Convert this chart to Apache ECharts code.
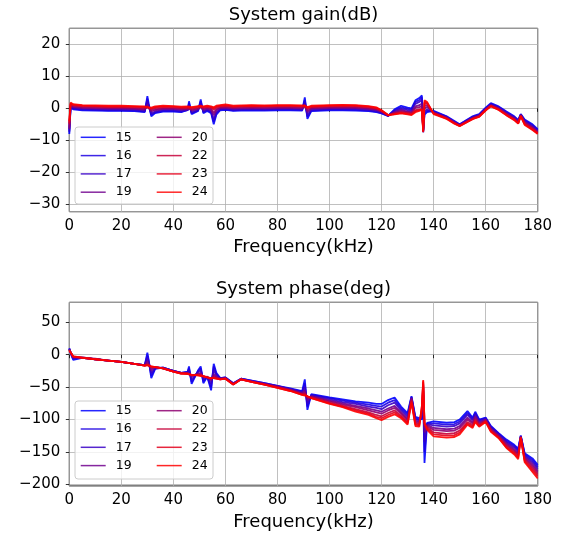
<!DOCTYPE html>
<html>
<head>
<meta charset="utf-8">
<script src="https://cdn.jsdelivr.net/npm/echarts@6/dist/echarts.min.js"></script>
<style>
  html, body { margin: 0; padding: 0; background: #fff; }
  #chart { width: 562px; height: 540px; }
</style>
</head>
<body>
<div id="chart"></div>
<script>
// data
const labels = ['15', '16', '17', '19', '20', '22', '23', '24']
const xTicks = [0, 20, 40, 60, 80, 100, 120, 140, 160, 180]
const freqs = [0, 0.5, 1.5, 5, 10, 15, 20, 25, 29, 30,
  30.5, 31.5, 33, 36, 40, 43, 45.5, 46, 47, 49.5,
  50.5, 51.5, 53, 54.5, 55.5, 56.5, 58, 60, 63, 66,
  70, 75, 80, 85, 89.5, 90.5, 91.5, 93, 100, 105,
  110, 115, 118, 120, 122.5, 125, 127.5, 130, 131.5, 133,
  134.5, 135.5, 136, 136.5, 137.5, 140, 145, 148, 150, 153,
  155, 156, 157.5, 160, 162, 165, 168, 171, 172.5, 173.5,
  175, 178, 180]

const gain15 = [-8, 0.2, -0.3, -0.6, -0.7, -0.8, -0.8, -0.9, -1.2, 3.8,
  1.5, -2.5, -1.5, -1.0, -1.0, -1.2, -0.5, 2.2, -1.8, -0.8,
  2.8, -1.5, -0.8, -1.5, -5.0, -2.0, -0.6, -0.5, -0.8, -0.7,
  -0.6, -0.7, -0.6, -0.6, -0.7, 3.4, -3.3, -0.9, -0.6, -0.6,
  -0.7, -0.9, -1.2, -1.6, -2.4, -0.3, 0.8, 0.2, 0.0, 2.5,
  3.2, 4.0, -7.5, -2.0, -1.2, -0.8, -2.5, -4.0, -5.0, -3.5,
  -2.5, -2.2, -1.8, 0.2, 1.6, 0.6, -1.0, -2.5, -3.6, -1.8,
  -3.5, -5.0, -6.5]
const gain16 = [-7.5, 0.4, -0.1, -0.4, -0.5, -0.6, -0.6, -0.7, -1.0, 3.0,
  1.0, -2.0, -1.3, -0.8, -0.8, -1.0, -0.6, 1.6, -1.5, -0.7,
  2.2, -1.2, -0.6, -1.2, -4.2, -1.6, -0.4, -0.3, -0.6, -0.5,
  -0.4, -0.5, -0.4, -0.4, -0.5, 2.6, -2.6, -0.7, -0.4, -0.4,
  -0.5, -0.7, -1.0, -1.5, -2.4, -0.6, 0.3, -0.2, -0.4, 2.0,
  2.6, 3.4, -7.2, -1.5, -0.8, -1.0, -2.6, -4.2, -5.1, -3.6,
  -2.7, -2.4, -2.0, 0, 1.4, 0.4, -1.2, -2.7, -3.8, -1.9,
  -3.8, -5.3, -6.8]
const gain17 = [-7, 0.5, 0.1, -0.2, -0.3, -0.3, -0.4, -0.4, -0.7, 2.2,
  0.5, -1.6, -1.0, -0.5, -0.5, -0.7, -0.5, 1.0, -1.2, -0.5,
  1.5, -0.9, -0.4, -0.9, -3.4, -1.2, -0.2, -0.1, -0.4, -0.3,
  -0.2, -0.3, -0.2, -0.2, -0.3, 1.8, -2.0, -0.4, -0.2, -0.1,
  -0.2, -0.5, -0.8, -1.3, -2.3, -0.9, -0.2, -0.6, -0.8, 1.4,
  2.0, 2.6, -7.0, -1.0, -0.4, -1.2, -2.8, -4.3, -5.2, -3.8,
  -2.8, -2.5, -2.1, -0.1, 1.2, 0.2, -1.4, -2.9, -4.0, -2.0,
  -4.0, -5.6, -7.0]
const gain19 = [-6.5, 0.8, 0.4, 0.1, 0, -0.1, -0.1, -0.2, -0.4, 1.2,
  0.2, -1.0, -0.6, -0.2, -0.2, -0.4, -0.3, 0.4, -0.7, -0.2,
  0.8, -0.5, -0.1, -0.5, -2.2, -0.6, 0.1, 0.2, -0.1, 0,
  0.1, 0, 0.1, 0.1, 0, 1.0, -1.2, -0.1, 0.1, 0.2,
  0.1, -0.2, -0.5, -1.1, -2.3, -1.2, -0.6, -1.0, -1.2, 0.6,
  1.0, 1.4, -6.8, 0, 0.4, -1.3, -2.9, -4.4, -5.3, -3.9,
  -3.0, -2.7, -2.3, -0.3, 1.0, 0, -1.6, -3.1, -4.2, -2.1,
  -4.3, -5.9, -7.3]
const gain20 = [-6, 1.0, 0.6, 0.3, 0.2, 0.1, 0.1, 0, -0.2, 0.6,
  0, -0.6, -0.3, 0, 0, -0.2, -0.1, 0.1, -0.4, 0,
  0.4, -0.2, 0.1, -0.2, -1.4, -0.3, 0.3, 0.4, 0.1, 0.2,
  0.3, 0.2, 0.3, 0.3, 0.2, 0.6, -0.7, 0.1, 0.3, 0.4,
  0.3, 0, -0.3, -1.0, -2.2, -1.4, -0.9, -1.2, -1.4, 0.1,
  0.4, 0.6, -6.8, 0.8, 0.9, -1.4, -3.0, -4.5, -5.3, -4.0,
  -3.1, -2.8, -2.4, -0.4, 0.9, -0.1, -1.8, -3.3, -4.4, -2.2,
  -4.5, -6.1, -7.5]
const gain22 = [-5, 1.3, 0.9, 0.6, 0.5, 0.4, 0.4, 0.3, 0.2, 0.3,
  0, -0.2, 0.1, 0.4, 0.3, 0.1, 0.2, 0.2, -0.1, 0.3,
  0.4, 0.2, 0.4, 0.2, -0.5, 0.2, 0.6, 0.7, 0.4, 0.5,
  0.6, 0.5, 0.6, 0.6, 0.5, 0.5, -0.1, 0.4, 0.6, 0.7,
  0.6, 0.3, -0.1, -0.8, -2.2, -1.6, -1.2, -1.5, -1.7, -0.6,
  -0.3, -0.2, -7.0, 1.6, 1.4, -1.5, -3.1, -4.6, -5.4, -4.1,
  -3.2, -2.9, -2.5, -0.5, 0.8, -0.3, -2.0, -3.5, -4.6, -2.3,
  -4.8, -6.4, -7.7]
const gain23 = [-4.5, 1.5, 1.1, 0.8, 0.7, 0.6, 0.6, 0.5, 0.4, 0.3,
  0.1, 0, 0.4, 0.6, 0.5, 0.3, 0.4, 0.4, 0.2, 0.5,
  0.6, 0.4, 0.6, 0.4, 0, 0.5, 0.8, 0.9, 0.6, 0.7,
  0.8, 0.7, 0.8, 0.8, 0.7, 0.7, 0.2, 0.6, 0.8, 0.9,
  0.8, 0.5, 0.1, -0.7, -2.1, -1.8, -1.4, -1.7, -1.9, -0.9,
  -0.6, -0.4, -7.2, 2.0, 1.7, -1.6, -3.2, -4.7, -5.5, -4.2,
  -3.3, -3.0, -2.6, -0.6, 0.7, -0.4, -2.1, -3.6, -4.7, -2.4,
  -5.0, -6.6, -7.8]
const gain24 = [-4, 1.8, 1.3, 1.0, 0.9, 0.8, 0.8, 0.7, 0.6, 0.4,
  0.2, 0.2, 0.6, 0.8, 0.7, 0.5, 0.6, 0.6, 0.4, 0.7,
  0.8, 0.6, 0.8, 0.6, 0.3, 0.8, 1.0, 1.2, 0.8, 0.9,
  1.0, 0.9, 1.0, 1.0, 0.9, 0.9, 0.4, 0.8, 1.0, 1.1,
  1.0, 0.7, 0.3, -0.6, -2.1, -1.9, -1.6, -1.9, -2.1, -1.2,
  -0.8, -0.5, -7.5, 2.5, 2.0, -1.8, -3.3, -4.8, -5.6, -4.3,
  -3.4, -3.1, -2.7, -0.7, 0.6, -0.5, -2.2, -3.7, -4.8, -2.5,
  -5.2, -6.8, -8.0]

const phase15 = [10, 2, -8, -5, -7, -9, -11, -14, -16, 3,
  -8, -36, -22, -20, -25, -28, -26, -18, -45, -24,
  -18, -44, -34, -55, -14, -28, -36, -35, -44, -37,
  -40, -44, -48, -52, -56, -38, -85, -61, -66, -69,
  -72, -74, -76, -76, -70, -66, -80, -90, -64, -96,
  -98, -100, -70, -167, -105, -103, -105, -104, -100, -87,
  -97, -88, -100, -97, -110, -121, -131, -139, -145, -125,
  -152, -160, -170]
const phase16 = [9, 3, -6, -5, -7, -9, -11, -14, -16, -1,
  -10, -32, -21, -20, -25, -28, -27, -21, -42, -25,
  -21, -41, -34, -50, -18, -30, -36, -35, -44, -37,
  -40, -44, -48, -53, -57, -44, -80, -62, -67, -71,
  -74, -77, -79, -80, -74, -70, -83, -93, -65, -98,
  -100, -98, -62, -150, -106, -106, -108, -107, -103, -90,
  -99, -90, -101, -98, -111, -122, -133, -141, -147, -125,
  -154, -163, -173]
const phase17 = [9, 4, -5, -4, -7, -9, -11, -14, -16, -5,
  -12, -28, -20, -20, -25, -28, -28, -24, -38, -27,
  -24, -38, -34, -45, -24, -32, -37, -36, -45, -37,
  -41, -45, -49, -53, -58, -50, -75, -63, -69, -73,
  -76, -80, -82, -84, -78, -74, -86, -96, -66, -100,
  -101, -95, -56, -135, -107, -109, -111, -110, -106, -93,
  -101, -92, -103, -99, -112, -123, -135, -143, -149, -126,
  -156, -166, -176]
const phase19 = [8, 4, -4, -5, -6, -9, -11, -14, -16, -10,
  -14, -24, -19, -21, -25, -28, -28, -26, -34, -29,
  -28, -35, -34, -40, -30, -34, -37, -36, -45, -38,
  -41, -45, -49, -54, -59, -55, -70, -64, -71, -75,
  -79, -83, -86, -88, -83, -79, -89, -99, -67, -102,
  -103, -92, -50, -120, -108, -113, -115, -114, -110, -97,
  -104, -95, -105, -100, -114, -125, -137, -146, -152, -126,
  -158, -169, -179]
const phase20 = [8, 5, -4, -5, -7, -9, -11, -14, -17, -13,
  -15, -21, -19, -21, -26, -28, -29, -27, -32, -30,
  -30, -34, -35, -38, -33, -35, -37, -36, -45, -38,
  -41, -45, -50, -55, -60, -58, -67, -65, -72, -77,
  -81, -86, -89, -91, -86, -82, -91, -101, -68, -104,
  -105, -88, -46, -112, -110, -116, -118, -117, -113, -100,
  -106, -97, -107, -101, -115, -126, -139, -148, -154, -127,
  -160, -172, -182]
const phase22 = [7, 5, -3, -4, -7, -9, -11, -14, -17, -15,
  -16, -19, -19, -21, -26, -29, -29, -28, -31, -31,
  -31, -33, -35, -37, -35, -36, -38, -37, -46, -38,
  -42, -46, -50, -55, -61, -60, -65, -66, -74, -79,
  -84, -89, -93, -95, -90, -86, -94, -104, -70, -106,
  -107, -84, -43, -108, -112, -120, -122, -121, -117, -104,
  -109, -100, -109, -102, -117, -127, -141, -150, -157, -127,
  -162, -175, -185]
const phase23 = [7, 6, -3, -5, -7, -9, -11, -14, -17, -16,
  -17, -18, -19, -21, -26, -29, -29, -29, -31, -32,
  -32, -33, -35, -36, -36, -37, -38, -37, -46, -38,
  -42, -46, -51, -56, -62, -62, -64, -67, -75, -80,
  -86, -91, -96, -98, -93, -89, -96, -106, -72, -108,
  -109, -80, -41, -106, -114, -123, -125, -124, -120, -106,
  -111, -102, -110, -103, -118, -128, -143, -152, -159, -128,
  -164, -178, -188]
const phase24 = [6, 6, -2, -5, -7, -9, -11, -14, -17, -16,
  -17, -18, -19, -21, -26, -29, -30, -30, -31, -32,
  -33, -33, -35, -36, -36, -37, -38, -37, -46, -38,
  -42, -46, -51, -56, -62, -63, -64, -67, -76, -81,
  -88, -93, -98, -101, -96, -92, -98, -108, -74, -110,
  -111, -78, -39, -105, -116, -126, -128, -127, -123, -108,
  -113, -104, -111, -104, -119, -129, -144, -154, -161, -128,
  -166, -181, -191]

const gains = [gain15, gain16, gain17, gain19, gain20, gain22, gain23, gain24]
const phases = [phase15, phase16, phase17, phase19, phase20, phase22, phase23, phase24]

// styles
const colors = ['#0000ff', '#1c00e3', '#3800c7', '#71008e', '#8e0071', '#c60039', '#e3001c', '#ff0000']
const FONT = 'DejaVu Sans'
const minus = (v) => String(v).replace('-', '\u2212')

const chart = echarts.init(document.getElementById('chart'))

const makeX = (gi) => ({
  type: 'value', gridIndex: gi, min: 0, max: 180, interval: 20,
  name: 'Frequency(kHz)', nameLocation: 'middle', nameGap: 27,
  nameTextStyle: { fontSize: 18, color: '#000', fontFamily: FONT },
  axisLine: { show: false },
  axisTick: { show: true, length: 3.5, lineStyle: { color: '#000', width: 0.8 } },
  axisLabel: { margin: 7, fontSize: 15, color: '#000', fontFamily: FONT, formatter: minus },
  splitLine: { show: true, lineStyle: { color: '#b0b0b0', width: 0.8 } }
})
const makeY = (gi, min, max, split) => ({
  type: 'value', gridIndex: gi, min: min, max: max, splitNumber: split,
  axisLine: { show: false },
  axisTick: { show: true, length: 3.5, lineStyle: { color: '#000', width: 0.8 } },
  axisLabel: { margin: 9, fontSize: 15, color: '#000', fontFamily: FONT, formatter: minus,
    showMinLabel: false, showMaxLabel: false },
  splitLine: { show: true, lineStyle: { color: '#b0b0b0', width: 0.8 } }
})

const series = []
;[gains, phases].forEach((set, gi) => {
  set.forEach((arr, i) => {
    series.push({
      type: 'line', name: labels[i], xAxisIndex: gi, yAxisIndex: gi,
      data: freqs.map((f, j) => [f, arr[j]]),
      symbol: 'none', showSymbol: false, color: colors[i],
      lineStyle: { width: 1.8, color: colors[i], opacity: 0.9 },
      z: 2
    })
  })
})

const legendBase = {
  orient: 'vertical', padding: 0, itemWidth: 25, itemHeight: 1.5, itemGap: 2.3,
  icon: 'rect', itemStyle: { opacity: 0.85 },
  textStyle: { fontSize: 12.5, lineHeight: 16, color: '#000', fontFamily: FONT, padding: [0, 0, 0, 5] }
}

const option = {
  animation: false,
  grid: [
    { left: 69.3, top: 28.3, width: 468.4, height: 183.4, show: true, borderColor: '#000', borderWidth: 1 },
    { left: 69.3, top: 302.3, width: 468.4, height: 183.7, show: true, borderColor: '#000', borderWidth: 1 }
  ],
  xAxis: [makeX(0), makeX(1)],
  yAxis: [makeY(0, -32.3, 25, 5), makeY(1, -202.6, 80.9, 5)],
  legend: [
    Object.assign({ left: 80.7, top: 129.3, data: labels.slice(0, 4) }, legendBase),
    Object.assign({ left: 156.7, top: 129.3, data: labels.slice(4) }, legendBase),
    Object.assign({ left: 80.7, top: 402.7, data: labels.slice(0, 4) }, legendBase),
    Object.assign({ left: 156.7, top: 402.7, data: labels.slice(4) }, legendBase)
  ],
  graphic: [
    { type: 'rect', z: 3, shape: { x: 75, y: 127, width: 138, height: 77, r: 3 },
      style: { fill: 'rgba(255,255,255,0.8)', stroke: '#cccccc', lineWidth: 1 } },
    { type: 'rect', z: 3, shape: { x: 75, y: 401, width: 138, height: 78, r: 3 },
      style: { fill: 'rgba(255,255,255,0.8)', stroke: '#cccccc', lineWidth: 1 } },
    { type: 'text', x: 303.5, y: 15, z: 5,
      style: { text: 'System gain(dB)', font: '18px "DejaVu Sans"', fill: '#000',
        align: 'center', verticalAlign: 'middle', textAlign: 'center', textVerticalAlign: 'middle' } },
    { type: 'text', x: 303.5, y: 289, z: 5,
      style: { text: 'System phase(deg)', font: '18px "DejaVu Sans"', fill: '#000',
        align: 'center', verticalAlign: 'middle', textAlign: 'center', textVerticalAlign: 'middle' } }
  ],
  series: series
}

chart.setOption(option)
</script>
</body>
</html>
